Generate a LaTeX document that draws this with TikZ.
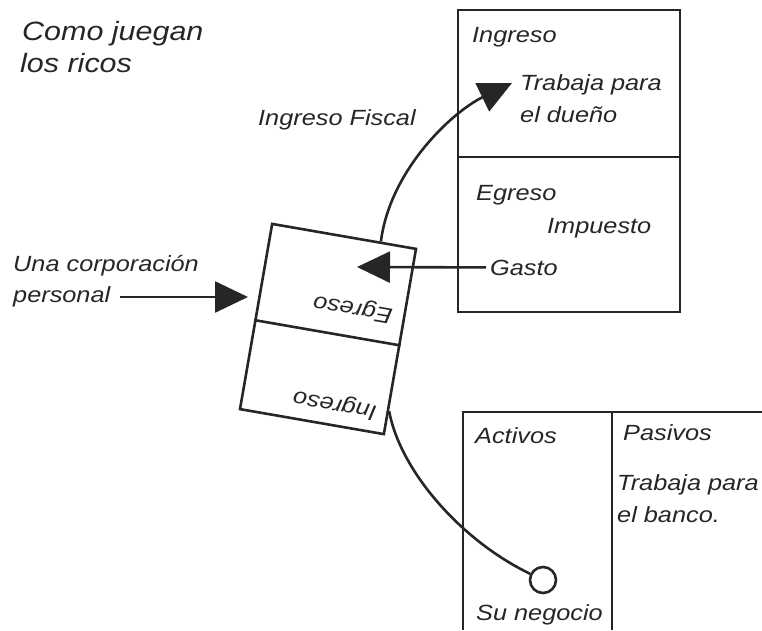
\documentclass[tikz,border=0pt]{standalone}
\usepackage{fontspec}
\setmainfont{Liberation Sans}[FakeStretch=1.15]
\usetikzlibrary{arrows.meta,calc}
\begin{document}
\begin{tikzpicture}[x=1pt,y=1pt,
  ink/.style={draw=black!85,line width=2.6pt},
  lbl/.style={anchor=base west,inner sep=0pt,font=\itshape\fontsize{22}{26}\selectfont,text=black!85},
  ttl/.style={lbl,font=\itshape\fontsize{26.5}{32}\selectfont},
  rlbl/.style={inner sep=0pt,font=\itshape\fontsize{22}{26}\selectfont,text=black!85,rotate=170.15},
  bigtip/.style={-{Triangle[length=33pt,width=31pt]}},
]
\useasboundingbox (0,0) rectangle (762,-630);

% title
\node[ttl] (t1) at (22,-40) {Como juegan};
\node[ttl] (t2) at (20,-72) {los ricos};

% top right statement
\node[ink,rectangle,inner sep=0pt,minimum width=222pt,minimum height=302pt] (stmt) at (569,-161) {};
\coordinate (dl) at (458,-157);
\coordinate (dr) at (680,-157);
\draw[ink] (dl) -- (dr);
\node[lbl] (ing) at (472,-42) {Ingreso};
\node[lbl] (tp1) at (520,-90) {Trabaja para};
\node[lbl] (tp2) at (520,-122) {el dueño};
\node[lbl] (egr) at (476,-200) {Egreso};
\node[lbl] (imp) at (547,-233) {Impuesto};
\node[lbl] (gas) at (490,-275) {Gasto};

% balance sheet (bottom right)
\coordinate (b1) at (463,-630);
\coordinate (b2) at (463,-412);
\coordinate (b3) at (762,-412);
\coordinate (b4) at (612,-412);
\coordinate (b5) at (612,-630);
\draw[ink] (b1) -- (b2) -- (b3);
\draw[ink] (b4) -- (b5);
\node[lbl] (act) at (475,-443) {Activos};
\node[lbl] (pas) at (623,-440) {Pasivos};
\node[lbl] (tb1) at (617,-490) {Trabaja para};
\node[lbl] (tb2) at (617,-522) {el banco.};
\node[lbl] (neg) at (476,-620) {Su negocio};
\node[ink,circle,inner sep=0pt,minimum size=26pt] (circ) at (543,-580) {};

% tilted corporation statement
\node[ink,rectangle,inner sep=0pt,minimum width=146pt,minimum height=188pt,rotate=-9.85] (corp) at (328,-329) {};
\draw[ink] ($(corp.north west)!0.52!(corp.south west)$) -- ($(corp.north east)!0.52!(corp.south east)$);
\node[rlbl] (cegr) at (353,-308) {Egreso};
\node[rlbl] (cing) at (335,-404) {Ingreso};

% left label
\node[lbl] (una) at (13,-271) {Una corporación};
\node[lbl] (pers) at (13,-302) {personal};
\node[lbl] (fisc) at (258,-125) {Ingreso Fiscal};

% connectors
\coordinate (a1s) at (120,-297);
\coordinate (a1e) at (248,-297);
\draw[ink,bigtip] (a1s) -- (a1e);

\coordinate (a2e) at (357,-267);
\draw[ink,bigtip] ([xshift=-4pt]gas.west) -- (a2e);

\coordinate (a3s) at ($(corp.north west)!0.75!(corp.north east)$);
\coordinate (a3e) at (512,-83);
\draw[ink,bigtip] (a3s) .. controls (390,-170) and (452,-112) .. (a3e);

\coordinate (a4s) at ($(corp.north east)!0.87!(corp.south east)$);
\draw[ink] (a4s) .. controls (400,-470) and (460,-540) .. (circ);
\end{tikzpicture}
\end{document}
